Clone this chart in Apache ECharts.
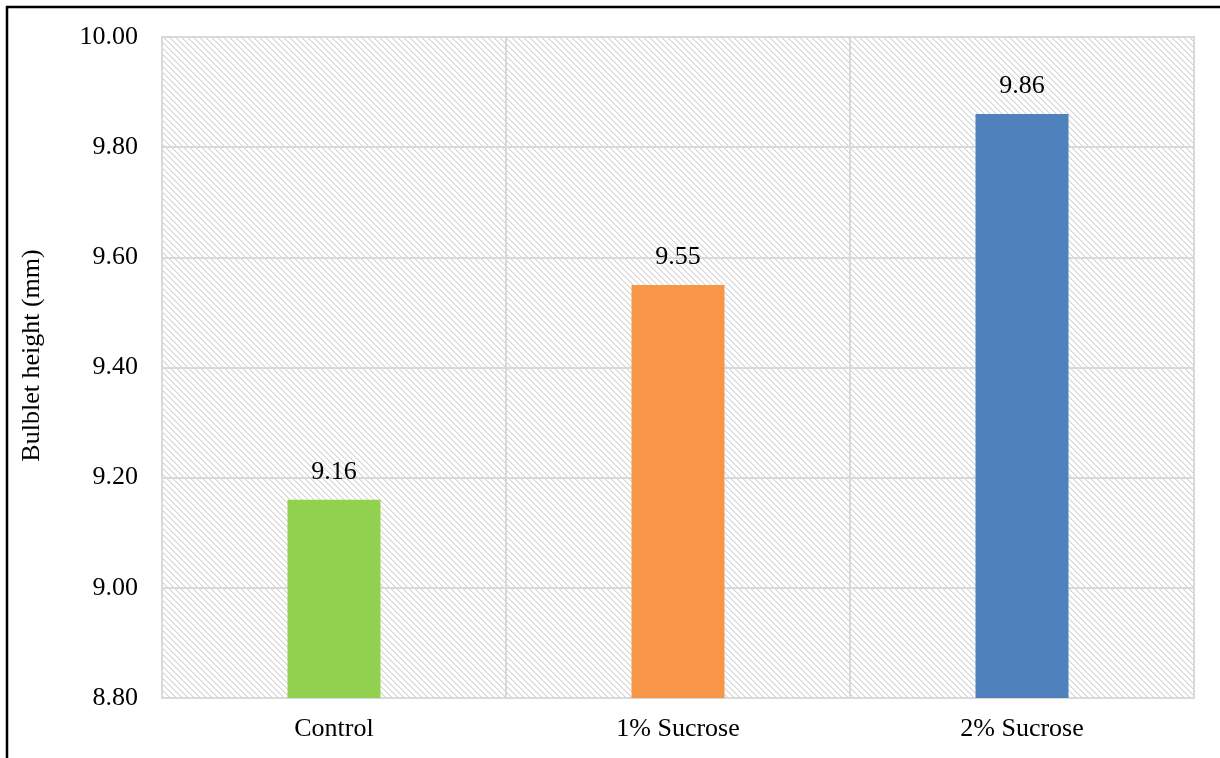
<!DOCTYPE html>
<html>
<head>
<meta charset="utf-8">
<script src="https://cdn.jsdelivr.net/npm/echarts@6/dist/echarts.min.js"></script>
<style>
  html, body { margin: 0; padding: 0; background: #ffffff; }
  #chart { width: 1220px; height: 758px; }
</style>
</head>
<body>
<div id="chart"></div>
<script>
// Bulblet height by treatment
const categories = ['Control', '1% Sucrose', '2% Sucrose'];
const heights = [9.16, 9.55, 9.86];
const barColors = ['#92D050', '#F79646', '#4F81BD'];
const yTicks = { min: 8.8, max: 10.0, step: 0.2 };

// Light diagonal hatch used as the plot-area fill
function hatchTile() {
  const c = document.createElement('canvas');
  c.width = 6; c.height = 6;
  const ctx = c.getContext('2d');
  ctx.fillStyle = '#ffffff';
  ctx.fillRect(0, 0, 6, 6);
  for (let i = 0; i < 6; i++) {
    ctx.fillStyle = '#d4d4d4';
    ctx.fillRect(i, i, 1, 1);
    ctx.fillStyle = '#ebebeb';
    ctx.fillRect((i + 1) % 6, i, 1, 1);
  }
  return c;
}

const font = '"Liberation Serif", "Times New Roman", serif';
const fontSize = 26;
const chart = echarts.init(document.getElementById('chart'), null, { renderer: 'canvas' });

chart.setOption({
  backgroundColor: '#ffffff',
  animation: false,
  graphic: [{
    type: 'polyline',
    shape: { points: [[7, 760], [7, 7], [1222, 7]] },
    style: { stroke: '#000000', lineWidth: 2.5, fill: null },
    silent: true
  }],
  grid: {
    left: 162, top: 37, right: 26, bottom: 60,
    show: true,
    backgroundColor: { image: hatchTile(), repeat: 'repeat' },
    borderColor: '#d9d9d9',
    borderWidth: 2
  },
  xAxis: {
    type: 'category',
    data: categories,
    axisLine: { show: false },
    axisTick: { show: false },
    axisLabel: { color: '#000000', fontFamily: font, fontSize: fontSize, margin: 18 },
    splitLine: { show: true, lineStyle: { color: '#d9d9d9', width: 2 } }
  },
  yAxis: {
    type: 'value',
    min: yTicks.min,
    max: yTicks.max,
    interval: yTicks.step,
    name: 'Bulblet height (mm)',
    nameLocation: 'middle',
    nameGap: 117,
    nameRotate: 90,
    nameTextStyle: {
      color: '#000000', fontFamily: font, fontSize: fontSize,
      padding: [0, 0, 0, 24]
    },
    axisLine: { show: false },
    axisTick: { show: false },
    axisLabel: {
      color: '#000000', fontFamily: font, fontSize: fontSize, margin: 24,
      formatter: v => v.toFixed(2)
    },
    splitLine: { show: true, lineStyle: { color: '#d9d9d9', width: 2 } }
  },
  series: [{
    type: 'bar',
    barWidth: 93,
    data: heights.map((v, i) => ({ value: v, itemStyle: { color: barColors[i] } })),
    label: {
      show: true,
      position: 'top',
      distance: 15,
      color: '#000000',
      fontFamily: font,
      fontSize: fontSize,
      formatter: p => p.value.toFixed(2)
    }
  }]
});
</script>
</body>
</html>
